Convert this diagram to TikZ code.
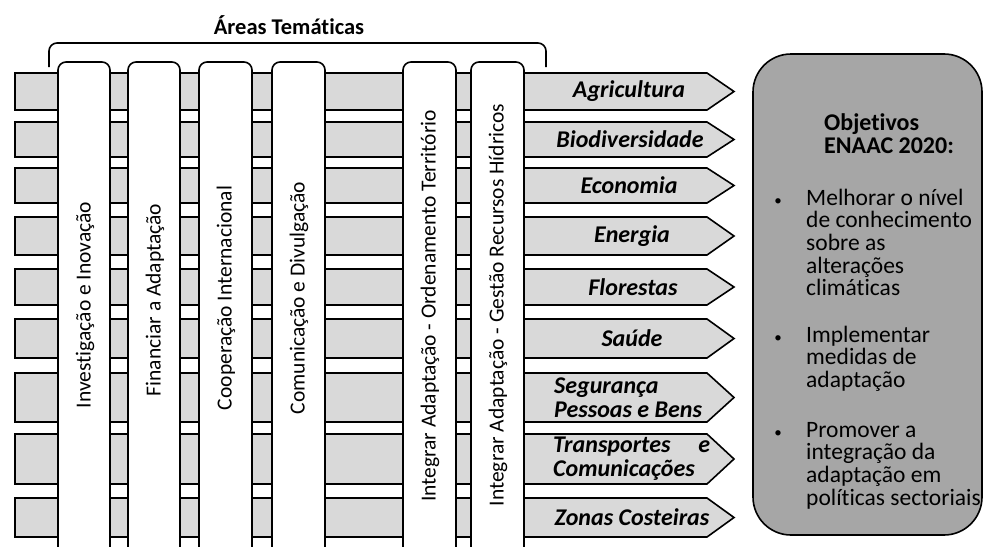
\documentclass[tikz,border=0pt]{standalone}
\usepackage{fontspec}
\setmainfont{Carlito}[Ligatures=NoCommon]
\usetikzlibrary{calc}

\begin{document}
\begin{tikzpicture}[
    x=1pt, y=-1pt,
    sector row/.style={draw=black,fill=black!15,line width=1.6pt,line join=miter},
    theme bar/.style={draw=black,fill=white,line width=1.6pt},
    sector label/.style={font=\fontsize{24}{24}\selectfont\bfseries\itshape,inner sep=0pt},
    theme label/.style={rotate=90,font=\fontsize{21.5}{21.5}\selectfont,inner sep=0pt},
    goal box/.style={draw=black,fill=black!35,line width=1.6pt,rounded corners=38pt},
    goal text/.style={font=\fontsize{23.5}{22.7}\selectfont,align=left,anchor=base west,inner sep=0pt},
    goal bullet/.style={font=\fontsize{15}{15}\selectfont,anchor=base,inner sep=0pt},
    brace line/.style={draw=black,line width=1.6pt,rounded corners=8pt}
]
\useasboundingbox (0,0) rectangle (984,546);

% Título e chaveta
\node[font=\fontsize{22.5}{22.5}\selectfont\bfseries] (areas) at (289,25) {Áreas Temáticas};
\draw[brace line] (49,67) -- (49,43) -- (546,43) -- (546,67);

% Setores (setas)
\draw[sector row] (15,73) -- (707,73) -- (734,91.5) -- (707,110) -- (15,110) -- cycle;
\draw[sector row] (15,122) -- (707,122) -- (734,139.5) -- (707,157) -- (15,157) -- cycle;
\draw[sector row] (15,168) -- (707,168) -- (734,185.5) -- (707,203) -- (15,203) -- cycle;
\draw[sector row] (15,217) -- (707,217) -- (734,236) -- (707,255) -- (15,255) -- cycle;
\draw[sector row] (15,269) -- (707,269) -- (734,287) -- (707,305) -- (15,305) -- cycle;
\draw[sector row] (15,319) -- (707,319) -- (734,338.5) -- (707,358) -- (15,358) -- cycle;
\draw[sector row] (15,373) -- (707,373) -- (734,397.5) -- (707,422) -- (15,422) -- cycle;
\draw[sector row] (15,434) -- (707,434) -- (734,459) -- (707,484) -- (15,484) -- cycle;
\draw[sector row] (15,498) -- (707,498) -- (734,517.5) -- (707,537) -- (15,537) -- cycle;

% Nomes dos setores
\node[sector label] (agricultura) at (629,91.5) {Agricultura};
\node[sector label] (biodiversidade) at (630,139.5) {Biodiversidade};
\node[sector label] (economia) at (629,185.5) {Economia};
\node[sector label] (energia) at (632,236) {Energia};
\node[sector label] (florestas) at (633,287) {Florestas};
\node[sector label] (saude) at (632,338.5) {Saúde};
\node[sector label,align=left,anchor=west] (seguranca) at (554,397.5) {Segurança\\Pessoas e Bens};
\node[sector label,align=left,anchor=west,text width=157pt] (transportes) at (553,459) {Transportes\hfill e\\Comunicações};
\node[sector label] (zonas) at (632,517.5) {Zonas Costeiras};

% Áreas temáticas (barras verticais)
\begin{scope}
\clip (0,0) rectangle (984,546);
\draw[theme bar] (58,560) [rounded corners=8pt] -- (58,62) -- (110,62) [sharp corners] -- (110,560) -- cycle;
\draw[theme bar] (128,560) [rounded corners=8pt] -- (128,62) -- (180,62) [sharp corners] -- (180,560) -- cycle;
\draw[theme bar] (199,560) [rounded corners=8pt] -- (199,62) -- (252,62) [sharp corners] -- (252,560) -- cycle;
\draw[theme bar] (272,560) [rounded corners=8pt] -- (272,62) -- (325,62) [sharp corners] -- (325,560) -- cycle;
\draw[theme bar] (403,560) [rounded corners=8pt] -- (403,62) -- (456,62) [sharp corners] -- (456,560) -- cycle;
\draw[theme bar] (471,560) [rounded corners=8pt] -- (471,62) -- (524,62) [sharp corners] -- (524,560) -- cycle;
\end{scope}

\node[theme label] (investigacao) at (85,305) {Investigação e Inovação};
\node[theme label] (financiar) at (155,300) {Financiar a Adaptação};
\node[theme label] (cooperacao) at (226,298) {Cooperação Internacional};
\node[theme label] (comunicacao) at (299,298) {Comunicação e Divulgação};
\node[theme label] (ordenamento) at (430,306) {Integrar Adaptação - Ordenamento Território};
\node[theme label] (recursos) at (498,305) {Integrar Adaptação - Gestão Recursos Hídricos};

% Caixa dos objetivos
\draw[goal box] (753,54) rectangle (982,535);
\node[goal text,font=\fontsize{24}{23}\selectfont\bfseries] (objetivos) at (824,153) {Objetivos\\ENAAC 2020:};
\node[goal bullet] (bullet1) at (778,205) {•};
\node[goal bullet] (bullet2) at (778,342) {•};
\node[goal bullet] (bullet3) at (778,437) {•};
\node[goal text] (meta1) at (806,295.8) {Melhorar o nível\\de conhecimento\\sobre as\\alterações\\climáticas};
\node[goal text] (meta2) at (806,387.4) {Implementar\\medidas de\\adaptação};
\node[goal text] (meta3) at (806,505.1) {Promover a\\integração da\\adaptação em\\políticas sectoriais};

\end{tikzpicture}
\end{document}
